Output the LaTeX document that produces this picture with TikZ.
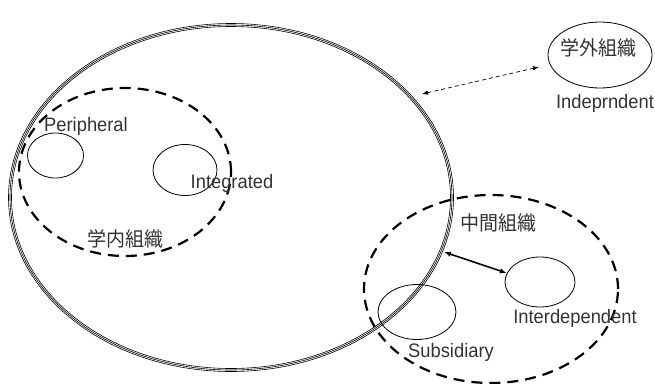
\documentclass[tikz,border=0pt]{standalone}
\usepackage{fontspec}
\setmainfont{Liberation Sans}[FakeStretch=0.94]
\newfontfamily\cjk{Noto Sans CJK JP}[FakeStretch=0.95]
\usetikzlibrary{shapes.geometric,arrows.meta}
\begin{document}
\begin{tikzpicture}[x=1pt,y=-1pt,
  thinell/.style={draw, ellipse, line width=0.8pt, inner sep=0pt},
  bigline/.style={draw, ellipse, line width=0.6pt, inner sep=0pt},
  dashell/.style={draw, ellipse, line width=2.2pt, dash pattern=on 11pt off 7pt, inner sep=0pt},
  lbl/.style={text=black!80, font=\fontsize{19.5}{21}\selectfont, inner sep=0pt},
  jlbl/.style={text=black!80, font=\cjk\fontsize{20}{22}\selectfont, inner sep=0pt},
  dasharrow/.style={line width=0.7pt, dash pattern=on 4pt off 3pt, {Latex[length=6pt,width=4.5pt]}-{Latex[length=6pt,width=4.5pt]}},
  solidarrow/.style={line width=1.6pt, {Latex[length=7pt,width=5.5pt]}-{Latex[length=7pt,width=5.5pt]}}]
\useasboundingbox (0,0) rectangle (655,383);

% inner dashed ellipse
\node[dashell, minimum width=212pt, minimum height=168pt] (naibu) at (125,172) {};
% intermediate dashed ellipse
\node[dashell, minimum width=254pt, minimum height=188pt] (chukan) at (491,289) {};

% small ellipses
\node[thinell, minimum width=56pt, minimum height=45pt] (peri) at (55.5,155.5) {};
\node[thinell, minimum width=64pt, minimum height=51pt] (integ) at (185,170) {};
\node[thinell, minimum width=104pt, minimum height=66pt] (gaibu) at (600,55) {};
\node[thinell, minimum width=70pt, minimum height=50pt] (inter) at (540,282) {};
\node[thinell, minimum width=78pt, minimum height=55pt] (subs) at (417,312) {};

% big triple ellipse
\node[bigline, minimum width=445pt, minimum height=348pt] (bigo) at (231,197.5) {};
\node[bigline, minimum width=442pt, minimum height=345pt] (big) at (231,197.5) {};
\node[bigline, minimum width=439pt, minimum height=342pt] (bigi) at (231,197.5) {};

% labels
\node[lbl] (tperi) at (86,126) {Peripheral};
\node[lbl] (tinteg) at (232,183) {Integrated};
\node[jlbl] (tnaibu) at (125,239) {学内組織};
\node[jlbl] (tgaibu) at (598,48) {学外組織};
\node[lbl] (tindep) at (605,103) {Indeprndent};
\node[jlbl] (tchukan) at (498,223) {中間組織};
\node[lbl] (tinter) at (575,318) {Interdependent};
\node[lbl] (tsubs) at (451,352) {Subsidiary};

% connectors
\coordinate (bigR) at (422,94);
\coordinate (gaibuL) at (539,67);
\draw[dasharrow] (bigR) -- (gaibuL);
\coordinate (bigR2) at (444,252);
\draw[solidarrow] (bigR2) -- (inter.165);
\end{tikzpicture}
\end{document}
